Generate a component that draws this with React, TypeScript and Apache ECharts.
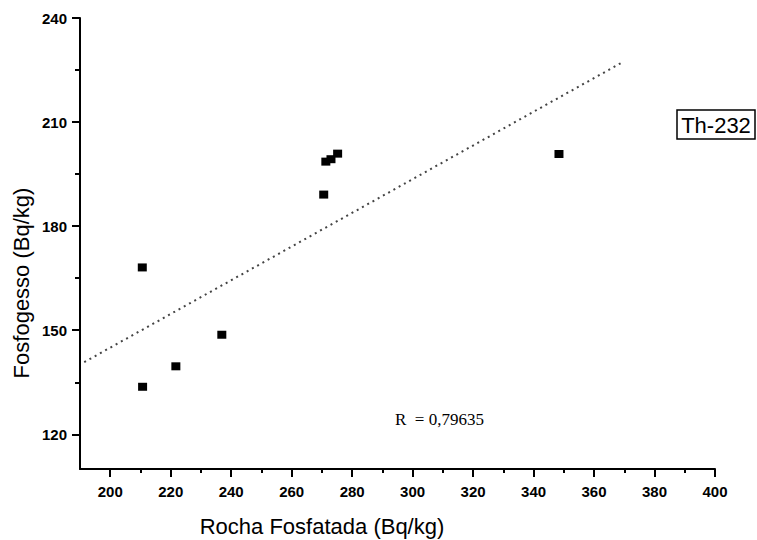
import React, { useEffect, useRef } from "react";
import * as echarts from "echarts";

const rochaX = [210.6, 210.7, 221.7, 236.9, 270.6, 271.3, 273.0, 275.2, 348.4];
const fosfoY = [168.1, 133.7, 139.6, 148.7, 189.1, 198.6, 199.3, 200.9, 200.8];
const fitX = [191.4, 369.7];
const fitY = [140.8, 227.4];
const xMajorTicks = [200, 220, 240, 260, 280, 300, 320, 340, 360, 380, 400];
const xMinorTicks = [210, 230, 250, 270, 290, 310, 330, 350, 370, 390];
const yMajorTicks = [120, 150, 180, 210, 240];
const yMinorTicks = [135, 165, 195, 225];
const xTitle = "Rocha Fosfatada (Bq/kg)";
const yTitle = "Fosfogesso (Bq/kg)";
const seriesLabel = "Th-232";
const rLabel = "R  = 0,79635";

export default function App() {
  const ref = useRef<HTMLDivElement>(null);
  useEffect(() => {
    if (!ref.current) return;
    const chart = echarts.init(ref.current, null, { renderer: "svg" });
    const labelFont = {
      fontFamily: "Liberation Sans, Arial, sans-serif",
      fontSize: 15,
      fontWeight: "bold" as const,
      color: "#000",
    };
    chart.setOption({
      animation: false,
      backgroundColor: "#fff",
      grid: { left: 80, right: 42, top: 18, bottom: 71, containLabel: false },
      xAxis: [
        {
          type: "value",
          min: 190,
          max: 400,
          position: "bottom",
          axisLine: { show: true, lineStyle: { color: "#000", width: 2 } },
          axisTick: { show: true, customValues: xMajorTicks, length: 8, lineStyle: { color: "#000", width: 2 } },
          axisLabel: { show: true, customValues: xMajorTicks, margin: 15, ...labelFont },
          splitLine: { show: false },
        },
        {
          type: "value",
          min: 190,
          max: 400,
          position: "bottom",
          axisLine: { show: false },
          axisTick: { show: true, customValues: xMinorTicks, length: 4, lineStyle: { color: "#000", width: 2 } },
          axisLabel: { show: false },
          splitLine: { show: false },
        },
      ],
      yAxis: [
        {
          type: "value",
          min: 110,
          max: 240,
          position: "left",
          axisLine: { show: true, lineStyle: { color: "#000", width: 2 } },
          axisTick: { show: true, customValues: yMajorTicks, length: 8, lineStyle: { color: "#000", width: 2 } },
          axisLabel: { show: true, customValues: yMajorTicks, margin: 13, ...labelFont },
          splitLine: { show: false },
        },
        {
          type: "value",
          min: 110,
          max: 240,
          position: "left",
          axisLine: { show: false },
          axisTick: { show: true, customValues: yMinorTicks, length: 5, lineStyle: { color: "#000", width: 2 } },
          axisLabel: { show: false },
          splitLine: { show: false },
        },
      ],
      series: [
        {
          type: "line",
          xAxisIndex: 0,
          yAxisIndex: 0,
          data: fitX.map((x, i) => [x, fitY[i]]),
          showSymbol: false,
          symbol: "none",
          lineStyle: { color: "#444", width: 2, type: [2, 4] },
          silent: true,
          z: 1,
        },
        {
          type: "scatter",
          xAxisIndex: 0,
          yAxisIndex: 0,
          data: rochaX.map((x, i) => [x, fosfoY[i]]),
          symbol: "rect",
          symbolSize: [9, 8],
          itemStyle: { color: "#000", opacity: 1 },
          z: 3,
        },
      ],
      graphic: [
        {
          type: "text",
          x: 21,
          y: 283,
          rotation: Math.PI / 2,
          style: {
            text: yTitle,
            fontFamily: "Liberation Sans, Arial, sans-serif",
            fontSize: 22,
            fill: "#000",
            align: "center",
            verticalAlign: "middle",
          },
        },
        {
          type: "text",
          x: 322,
          y: 526,
          style: {
            text: xTitle,
            fontFamily: "Liberation Sans, Arial, sans-serif",
            fontSize: 22,
            fill: "#000",
            align: "center",
            verticalAlign: "middle",
          },
        },
        {
          type: "rect",
          shape: { x: 677, y: 110, width: 78, height: 29 },
          style: { fill: "#fff", stroke: "#000", lineWidth: 1.5 },
        },
        {
          type: "text",
          x: 716,
          y: 125,
          style: {
            text: seriesLabel,
            fontFamily: "Liberation Sans, Arial, sans-serif",
            fontSize: 22,
            fill: "#000",
            align: "center",
            verticalAlign: "middle",
          },
        },
        {
          type: "text",
          x: 395,
          y: 419,
          style: {
            text: rLabel,
            fontFamily: "Liberation Serif, Times New Roman, serif",
            fontSize: 17,
            fill: "#000",
            align: "left",
            verticalAlign: "middle",
          },
        },
      ],
    });
    return () => chart.dispose();
  }, []);
  return <div ref={ref} style={{ width: 757, height: 540, position: "absolute", left: 0, top: 0 }} />;
}
